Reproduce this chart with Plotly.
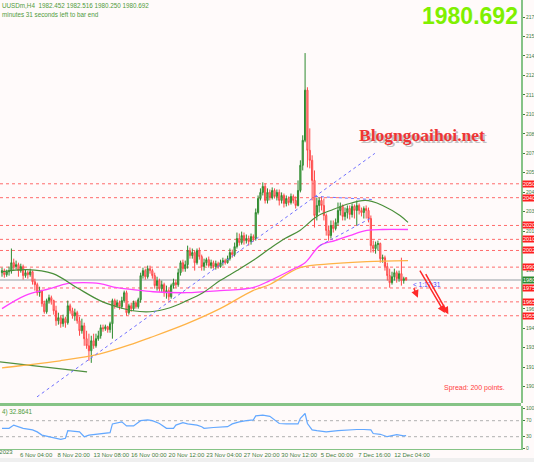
import plotly.graph_objects as go

# ---------------- data ----------------
bars = list(range(173))
opens = [1986.0,1987.5,1984.6,1986.7,1987.5,1993.2,1990.4,1991.8,1987.5,1990.4,
         1983.9,1986.0,1984.6,1986.7,1979.5,1977.4,1971.6,1973.1,1963.7,1957.9,
         1965.9,1968.0,1965.9,1958.6,1951.4,1953.6,1949.3,1952.9,1950.0,1962.2,
         1958.6,1955.0,1957.2,1951.4,1944.2,1947.8,1938.5,1933.4,1929.8,1937.0,
         1933.4,1938.5,1940.6,1946.4,1945.7,1947.1,1945.0,1949.3,1965.9,1962.2,
         1964.4,1961.5,1965.9,1971.6,1957.2,1962.2,1960.1,1964.4,1961.5,1966.6,
         1983.9,1987.5,1983.1,1988.9,1987.5,1983.9,1976.7,1980.3,1974.5,1977.4,
         1971.6,1973.1,1968.7,1976.7,1978.8,1977.4,1986.0,1993.2,1988.9,1991.8,
         2001.9,1998.3,2000.5,1993.2,2001.9,1997.6,1990.4,1993.2,1995.4,1991.1,
         1993.2,1990.4,1992.5,1990.4,1993.2,1994.7,1993.2,1996.1,2000.5,1999.0,
         2004.8,2010.6,2007.7,2012.7,2009.1,2010.6,2008.4,2012.0,2010.6,2029.3,
         2039.4,2043.8,2048.1,2038.0,2043.8,2040.1,2045.2,2040.9,2043.8,2038.0,
         2041.6,2035.8,2039.4,2036.5,2040.9,2038.0,2034.4,2045.2,2063.3,2081.3,
         2117.4,2074.1,2066.9,2052.4,2027.2,2034.4,2038.0,2034.4,2027.2,2016.4,
         2012.7,2020.0,2017.8,2022.2,2030.8,2033.7,2026.5,2029.3,2032.2,2027.9,
         2033.7,2030.8,2034.4,2030.8,2029.3,2032.2,2030.8,2025.0,2005.5,2003.4,
         2006.2,2007.0,1996.1,1996.8,1990.4,1983.9,1978.8,1983.1,1986.0,1981.7,
         1985.3,1980.3,1982.452]
highs = [1989.6,1988.9,1988.2,1990.4,2003.4,1996.1,1994.7,1993.2,1992.5,1991.8,
         1988.2,1987.5,1988.9,1987.5,1981.7,1978.8,1975.9,1973.8,1965.9,1967.3,
         1970.2,1969.5,1966.6,1962.2,1957.2,1955.0,1955.8,1954.3,1965.9,1963.7,
         1960.8,1960.1,1958.6,1954.3,1952.9,1950.0,1944.2,1942.1,1940.6,1942.1,
         1942.1,1944.2,1948.6,1948.6,1948.6,1947.8,1950.7,1967.3,1967.3,1966.6,
         1965.9,1968.7,1973.1,1973.1,1963.7,1964.4,1965.9,1965.9,1968.0,1986.0,
         1989.6,1988.9,1991.1,1991.1,1988.9,1986.0,1983.1,1981.7,1980.3,1978.8,
         1976.7,1974.5,1978.1,1981.7,1981.0,1988.9,1994.7,1995.4,1994.7,2005.5,
         2004.1,2003.4,2001.9,2003.4,2004.1,1999.0,1996.1,1996.8,1997.6,1995.4,
         1994.7,1994.7,1993.9,1995.4,1996.8,1996.1,1998.3,2003.4,2002.6,2007.7,
         2014.9,2014.2,2015.6,2014.9,2013.5,2012.7,2014.2,2013.5,2032.2,2041.6,
         2046.7,2051.0,2050.3,2046.7,2045.9,2047.4,2046.7,2045.9,2045.9,2043.8,
         2043.0,2041.6,2040.9,2043.0,2042.3,2040.9,2052.4,2066.9,2084.9,2144.1,
         2119.5,2089.9,2070.5,2059.6,2040.1,2040.1,2040.9,2039.4,2028.6,2020.0,
         2023.6,2023.6,2025.0,2036.5,2036.5,2035.1,2032.9,2034.4,2034.4,2035.8,
         2035.1,2038.0,2035.8,2032.9,2033.7,2034.4,2032.9,2027.2,2009.1,2008.4,
         2009.1,2007.7,1999.0,1998.3,1993.2,1988.9,1986.7,1988.9,1987.5,1987.5,
         1996.8,1983.1,1982.516]
lows = [1983.1,1982.4,1983.1,1983.9,1985.3,1987.5,1988.2,1983.1,1986.0,1981.0,
        1982.4,1981.7,1983.1,1977.4,1973.1,1969.5,1968.7,1961.5,1956.5,1956.5,
        1963.7,1963.0,1955.8,1947.8,1948.6,1946.4,1947.1,1946.4,1948.6,1956.5,
        1952.9,1951.4,1949.3,1940.6,1942.1,1933.4,1931.2,1922.6,1921.1,1931.2,
        1932.0,1937.0,1938.5,1943.5,1944.2,1942.8,1942.8,1938.5,1960.1,1960.8,
        1959.4,1960.1,1964.4,1955.0,1955.8,1957.9,1958.6,1960.1,1960.1,1964.4,
        1981.7,1981.0,1981.7,1985.3,1981.7,1974.5,1973.1,1972.3,1971.6,1968.7,
        1967.3,1965.9,1967.3,1974.5,1975.2,1975.9,1983.9,1986.7,1986.7,1988.9,
        1996.1,1996.1,1987.5,1991.8,1995.4,1987.5,1987.5,1991.1,1989.6,1988.9,
        1988.9,1988.2,1988.9,1989.6,1991.1,1991.8,1992.5,1994.7,1996.8,1997.6,
        2003.4,2005.5,2006.2,2006.2,2007.0,2005.5,2006.2,2008.4,2009.1,2027.9,
        2038.0,2041.6,2035.8,2035.8,2038.0,2038.7,2039.4,2038.0,2034.4,2035.8,
        2032.9,2033.7,2034.4,2035.1,2035.8,2032.2,2033.7,2043.8,2059.6,2079.9,
        2061.8,2061.1,2038.0,2018.5,2023.6,2029.3,2030.8,2023.6,2012.7,2009.1,
        2010.6,2014.9,2016.4,2020.0,2027.2,2023.6,2023.6,2025.0,2024.3,2025.7,
        2025.0,2020.0,2027.9,2026.5,2025.0,2025.0,2022.2,2000.5,2000.5,1999.7,
        2001.9,1993.2,1993.2,1987.5,1980.3,1975.2,1977.4,1980.3,1978.8,1979.5,
        1976.7,1978.1,1980.250]
closes = [1987.5,1984.6,1986.7,1987.5,1993.2,1990.4,1991.8,1987.5,1990.4,1983.9,
          1986.0,1984.6,1986.7,1979.5,1977.4,1971.6,1973.1,1963.7,1957.9,1965.9,
          1968.0,1965.9,1958.6,1951.4,1953.6,1949.3,1952.9,1950.0,1962.2,1958.6,
          1955.0,1957.2,1951.4,1944.2,1947.8,1938.5,1933.4,1929.8,1937.0,1933.4,
          1938.5,1940.6,1946.4,1945.7,1947.1,1945.0,1949.3,1965.9,1962.2,1964.4,
          1961.5,1965.9,1971.6,1957.2,1962.2,1960.1,1964.4,1961.5,1966.6,1983.9,
          1987.5,1983.1,1988.9,1987.5,1983.9,1976.7,1980.3,1974.5,1977.4,1971.6,
          1973.1,1968.7,1976.7,1978.8,1977.4,1986.0,1993.2,1988.9,1991.8,2001.9,
          1998.3,2000.5,1993.2,2001.9,1997.6,1990.4,1993.2,1995.4,1991.1,1993.2,
          1990.4,1992.5,1990.4,1993.2,1994.7,1993.2,1996.1,2000.5,1999.0,2004.8,
          2010.6,2007.7,2012.7,2009.1,2010.6,2008.4,2012.0,2010.6,2029.3,2039.4,
          2043.8,2048.1,2038.0,2043.8,2040.1,2045.2,2040.9,2043.8,2038.0,2041.6,
          2035.8,2039.4,2036.5,2040.9,2038.0,2034.4,2045.2,2063.3,2081.3,2117.4,
          2074.1,2066.9,2052.4,2027.2,2034.4,2038.0,2034.4,2027.2,2016.4,2012.7,
          2020.0,2017.8,2022.2,2030.8,2033.7,2026.5,2029.3,2032.2,2027.9,2033.7,
          2030.8,2034.4,2030.8,2029.3,2032.2,2030.8,2025.0,2005.5,2003.4,2006.2,
          2007.0,1996.1,1996.8,1990.4,1983.9,1978.8,1983.1,1986.0,1981.7,1985.3,
          1980.3,1981.7,1980.692]

# moving averages (sampled along the drawn curves: bar index, price)
ma_green_bar = [0, 10.6, 21.7, 31.9, 41.7, 48.9, 55.7, 63, 71.5, 78.7, 85.5, 92.8, 100,
                106.8, 114, 120.4, 126.8, 134, 140.9, 148, 154.5, 157.4, 162, 169.4, 172.8]
ma_green_val = [1986.7, 1988.2, 1985.3, 1975.2, 1965.9, 1961.5, 1958.6, 1957.9, 1960.8,
                1965.9, 1971.6, 1980.3, 1987.5, 1994.7, 2003.4, 2010.6, 2016.4, 2026.5,
                2031.5, 2035.8, 2038.0, 2037.3, 2034.4, 2027.2, 2022.2]
ma_magenta_bar = [0, 9.8, 20.4, 27.7, 34.5, 41.7, 48.9, 55.7, 64.3, 78.7, 92.8, 106.8,
                  114, 122.6, 129, 135.3, 141.7, 148, 155.3, 162, 172.8]
ma_magenta_val = [1960.1, 1969.5, 1974.5, 1978.1, 1978.8, 1978.1, 1975.2, 1973.8, 1972.3,
                  1971.6, 1973.1, 1975.2, 1980.3, 1987.5, 1993.2, 2005.5, 2009.1, 2012.7,
                  2016.4, 2017.1, 2017.1]
ma_orange_bar = [0, 7.7, 24.7, 41.7, 55.7, 63, 78.7, 92.8, 106.8, 114, 126.8, 140.9, 155.3, 172.8]
ma_orange_val = [1917.5, 1919.0, 1922.6, 1927.6, 1934.8, 1939.2, 1949.3, 1960.1, 1973.1,
                 1977.5, 1989.6, 1992.5, 1994.0, 1994.7]

# trend lines (bar index, price)
old_trend_bar = [-1, 36.2]
old_trend_val = [1921.8, 1914.6]
up_trend_bar = [14.9, 158.7]
up_trend_val = [1896.6, 2071.9]
chan_low_bar = [135.3, 157.4]
chan_low_val = [2005.5, 2025.7]
chan_top_bar = [133.2, 157.4]
chan_top_val = [2040.9, 2038.7]

# horizontal levels
levels = [2050, 2040, 2020, 2010, 2002, 1990, 1975, 1965, 1955]
bid = 1980.692

# RSI(14) samples (bar index, value)
rsi_bar = [0, 3, 5, 9, 13, 15, 17, 23, 25, 27, 28, 33, 35, 37, 42, 46, 47, 48, 51, 53, 56,
           59, 62, 64, 67, 70, 73, 74, 77, 79, 83, 85, 86, 90, 96, 98, 101, 104, 107, 108,
           111, 114, 118, 121, 124, 126, 127, 129, 130, 132, 134, 138, 143, 147, 151, 154,
           157, 158, 161, 164, 166, 168, 171, 172]
rsi_val = [51, 51, 59, 51, 47, 42, 34, 26, 23.5, 26, 45, 42, 30, 34, 38, 40, 62, 63, 67, 57,
           57, 70, 72, 70, 63, 51, 51, 59, 65, 62, 59, 55, 51, 53, 55, 62, 67, 70, 72, 82,
           84, 81, 63, 62, 63, 62, 76, 88, 63, 47, 45, 42, 45, 47, 48, 48, 47, 38, 36, 30,
           32, 35, 32, 32.86]
rsi_levels = [30, 70]

ytick_vals = list(range(1890, 2171, 14))
xtick_bars = [8, 24, 40, 56, 72, 88, 104, 120, 136, 152, 168]
xtick_text = ["6 Nov 04:00", "8 Nov 20:00", "13 Nov 08:00", "16 Nov 00:00", "20 Nov 12:00",
              "23 Nov 04:00", "27 Nov 20:00", "30 Nov 12:00", "5 Dec 00:00", "7 Dec 16:00",
              "12 Dec 04:00"]

# ---------------- figure ----------------
W, H = 534, 462
ML, MR, MT, MB = 0, 13, 0, 13
PH = H - MT - MB
FONT = "Liberation Sans"
AXC = "#3f7f3f"
GRN = "#86c386"

def py(p):  # pixel y -> paper y
    return (PH - p) / PH

fig = go.Figure()

fig.add_trace(go.Candlestick(
    x=bars, open=opens, high=highs, low=lows, close=closes,
    increasing=dict(line=dict(color="#2f8a2f", width=1), fillcolor="#6cbf6c"),
    decreasing=dict(line=dict(color="#ff4a4a", width=1), fillcolor="#ffaaaa"),
    whiskerwidth=0, xaxis="x", yaxis="y", showlegend=False, hoverinfo="skip"))

fig.add_trace(go.Scatter(x=old_trend_bar, y=old_trend_val, mode="lines",
                         line=dict(color="#4f8f3f", width=1.2), showlegend=False))
fig.add_trace(go.Scatter(x=ma_orange_bar, y=ma_orange_val, mode="lines", line_shape="spline",
                         line=dict(color="#ffb347", width=1.3), showlegend=False))
fig.add_trace(go.Scatter(x=ma_magenta_bar, y=ma_magenta_val, mode="lines", line_shape="spline",
                         line=dict(color="#ff40ff", width=1.3), showlegend=False))
fig.add_trace(go.Scatter(x=ma_green_bar, y=ma_green_val, mode="lines", line_shape="spline",
                         line=dict(color="#4a8f3a", width=1.2), showlegend=False))
for bx, by in [(up_trend_bar, up_trend_val), (chan_low_bar, chan_low_val), (chan_top_bar, chan_top_val)]:
    fig.add_trace(go.Scatter(x=bx, y=by, mode="lines",
                             line=dict(color="#7070ff", width=1, dash="dot"), showlegend=False))

fig.add_trace(go.Scatter(x=rsi_bar, y=rsi_val, mode="lines", xaxis="x2", yaxis="y2",
                         line=dict(color="#63a8ff", width=1.2), showlegend=False))

shapes = []
for lv in levels:
    shapes.append(dict(type="line", xref="paper", x0=0, x1=1, yref="y", y0=lv, y1=lv,
                       line=dict(color="#ff6b6b", width=1, dash="dot"), layer="below"))
shapes.append(dict(type="line", xref="paper", x0=0, x1=1, yref="y", y0=bid, y1=bid,
                   line=dict(color="#b8bcc0", width=1.5), layer="below"))
for lv in rsi_levels:
    shapes.append(dict(type="line", xref="paper", x0=0, x1=1, yref="y2", y0=lv, y1=lv,
                       line=dict(color="#b0b0b0", width=1, dash="dot"), layer="below"))
# separator between main chart and indicator window
shapes.append(dict(type="rect", xref="paper", x0=0, x1=1, yref="paper", y0=py(406), y1=py(403),
                   line=dict(width=0), fillcolor=GRN))
# bottom status strip
shapes.append(dict(type="rect", xref="paper", x0=0, x1=W / (W - MR), yref="paper",
                   y0=py(H), y1=py(458), line=dict(width=0), fillcolor="#efefef", layer="below"))

ann = []
def text(x, y, s, size, color, xanchor="left", family=FONT, bold=False, **kw):
    if bold:
        s = "<b>" + s + "</b>"
    ann.append(dict(xref="paper", yref="paper", x=x / (W - MR), y=py(y), text=s, showarrow=False,
                    xanchor=xanchor, yanchor="middle", font=dict(size=size, color=color, family=family), **kw))

text(0, 5, "UUSDm,H4  1982.452 1982.516 1980.250 1980.692", 6.3, "#4f9a3a")
text(0, 14, "minutes 31 seconds left to bar end", 6.3, "#4f9a3a")
text(520, 16, "1980.692", 23, "#7ff000", xanchor="right", bold=True)
text(423.5, 136.5, "Blogngoaihoi.net", 17.5, "rgba(120,120,120,0.45)", xanchor="center",
     family="Liberation Serif", bold=True)
text(422, 135, "Blogngoaihoi.net", 17.5, "#ee3535", xanchor="center",
     family="Liberation Serif", bold=True)
text(507, 388, "Spread: 200 points.", 7, "#ff4040", xanchor="right")
text(0, 412, "4) 32.8641", 6.3, "#4f9a3a")
text(15, 452, "3 Nov 2023", 6, AXC, xanchor="right")
text(411, 284, "&lt; 1:17:31", 6.5, "#4a4aff")

for lv in levels:
    ann.append(dict(xref="paper", yref="y", x=1, y=lv, text=f"{lv:.2f}", showarrow=False,
                    xanchor="left", yanchor="middle", xshift=1, bgcolor="#ff1e1e", borderpad=0,
                    font=dict(size=5.5, color="white", family=FONT)))
ann.append(dict(xref="paper", yref="y", x=1, y=bid, text=f"{bid:.2f}", showarrow=False,
                xanchor="left", yanchor="middle", xshift=1, bgcolor="#2f8a2f", borderpad=0,
                font=dict(size=5.5, color="white", family=FONT)))

# red hand-drawn arrows (bar index, price)
arrows = [((177.5, 1988.5), (188.5, 1957.0)), ((180.0, 1986.0), (190.0, 1956.0)),
          ((175.0, 1976.0), (177.0, 1968.0))]
for (ax0, ay0), (ax1, ay1) in arrows:
    ann.append(dict(xref="x", yref="y", axref="x", ayref="y", x=ax1, y=ay1, ax=ax0, ay=ay0,
                    showarrow=True, arrowhead=2, arrowsize=1, arrowwidth=1.5, arrowcolor="#ff2a2a",
                    text=""))

tickvals = [b + 6.5 for b in xtick_bars]

fig.update_layout(
    width=W, height=H, margin=dict(l=ML, r=MR, t=MT, b=MB),
    paper_bgcolor="#fffafa", plot_bgcolor="#fffafa",
    font=dict(family=FONT, size=6, color=AXC),
    showlegend=False, hovermode=False,
    shapes=shapes, annotations=ann,
    xaxis=dict(domain=[0, 1], range=[-0.85, 220.9], anchor="y", showticklabels=False,
               showgrid=False, zeroline=False, rangeslider=dict(visible=False), fixedrange=True),
    yaxis=dict(domain=[py(403), 1], range=[1892.2, 2182.3], side="right", anchor="x",
               tickvals=ytick_vals, ticktext=[str(v) for v in ytick_vals], ticks="outside",
               ticklen=2, tickcolor=AXC, tickfont=dict(size=5, color=AXC),
               showline=True, linecolor=GRN, linewidth=2, showgrid=False, zeroline=False,
               automargin=False, ticklabeloverflow="allow"),
    xaxis2=dict(domain=[0, 1], range=[-0.85, 220.9], anchor="y2", tickvals=tickvals,
                ticktext=xtick_text, ticks="", tickangle=0, tickfont=dict(size=6, color=AXC),
                showline=True, linecolor=GRN, linewidth=1, showgrid=False, zeroline=False,
                automargin=False, ticklabeloverflow="allow"),
    yaxis2=dict(domain=[0, py(406)], range=[-0.75, 106.75], side="right", anchor="x2",
                tickvals=[0, 30, 70, 100], ticks="outside", ticklen=2, tickcolor=AXC,
                tickfont=dict(size=5, color=AXC), showline=True, linecolor=GRN, linewidth=2,
                showgrid=False, zeroline=False, automargin=False, ticklabeloverflow="allow"),
)

fig.write_html("out.html", config={"displayModeBar": False},
               post_script="document.body.style.margin='0';document.body.style.overflow='hidden';")
